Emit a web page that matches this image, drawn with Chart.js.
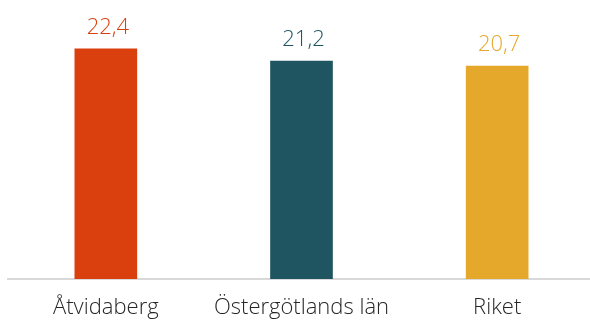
<!DOCTYPE html>
<html>
<head>
<meta charset="utf-8">
<script src="https://cdn.jsdelivr.net/npm/chart.js@4"></script>
<style>
  html, body { margin: 0; padding: 0; background: #fff; overflow: hidden; }
  #wrap { width: 590px; height: 322px; overflow: hidden; }
</style>
</head>
<body>
<div id="wrap"><canvas id="c" width="597" height="322"></canvas></div>
<script>
const categories = ['Åtvidaberg', 'Östergötlands län', 'Riket'];
const values = [22.4, 21.2, 20.7];
const barColors = ['#D9400E', '#1F5561', '#E5A82A'];

const FONT = "'Open Sans', Lato, sans-serif";

// Value labels above each bar, written with a decimal comma
const valueLabels = {
  id: 'valueLabels',
  afterDatasetsDraw(chart) {
    const ctx = chart.ctx;
    const meta = chart.getDatasetMeta(0);
    ctx.save();
    ctx.font = "300 22px " + FONT;
    ctx.textAlign = 'center';
    ctx.textBaseline = 'alphabetic';
    meta.data.forEach((bar, i) => {
      ctx.fillStyle = barColors[i];
      ctx.fillText(values[i].toFixed(1).replace('.', ','), bar.x + 2, bar.y - 15);
    });
    ctx.restore();
  }
};

new Chart(document.getElementById('c'), {
  type: 'bar',
  data: {
    labels: categories,
    datasets: [{
      data: values,
      backgroundColor: barColors,
      barThickness: 62
    }]
  },
  options: {
    responsive: false,
    animation: false,
    layout: { padding: { left: 8, right: 2, top: 22, bottom: 0 } },
    plugins: { legend: { display: false }, tooltip: { enabled: false } },
    scales: {
      x: {
        grid: { display: false },
        border: { color: '#D9D9D9', width: 2 },
        ticks: { color: '#262626', font: { family: FONT, size: 22, weight: 300 }, padding: 8 },
        afterFit(scale) { scale.height = 43; }
      },
      y: {
        display: false,
        min: 0,
        max: 25
      }
    }
  },
  plugins: [valueLabels]
});
</script>
</body>
</html>
